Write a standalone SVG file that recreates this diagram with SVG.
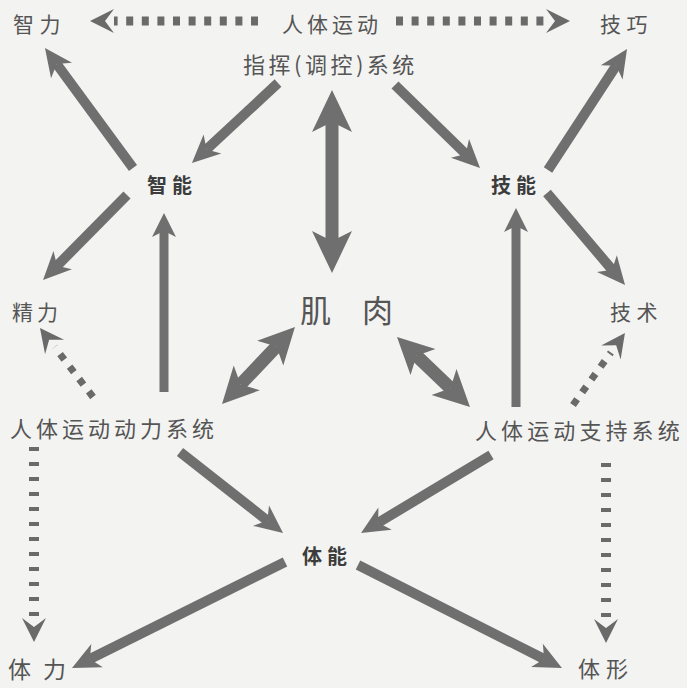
<svg xmlns="http://www.w3.org/2000/svg" width="687" height="688" viewBox="0 0 687 688">
<style>
text{font-family:"Noto Sans CJK SC","Noto Sans",sans-serif;fill:#555;}
.b{font-weight:700;fill:#3c3c3c;font-size:20px;letter-spacing:5px;}
.s{stroke:#6f6f6f;stroke-width:10;fill:none;}
.v{stroke:#6f6f6f;stroke-width:9;fill:none;}
.big{stroke:#6f6f6f;stroke-width:13;fill:none;}
.dh{stroke:#6a6a6a;stroke-width:9;stroke-dasharray:7 8.6;fill:none;}
.dv{stroke:#6a6a6a;stroke-width:10;stroke-dasharray:4 11;fill:none;}
.dd{stroke:#6a6a6a;stroke-width:7;stroke-dasharray:7 8.7;fill:none;}
</style>
<defs>
<marker id="hs" markerUnits="userSpaceOnUse" orient="auto" overflow="visible" refX="0" refY="0" markerWidth="1" markerHeight="1"><path d="M20,0 L-8,-13 L0,0 L-8,13 Z" fill="#6f6f6f"/></marker>
<marker id="hv" markerUnits="userSpaceOnUse" orient="auto" overflow="visible" refX="0" refY="0" markerWidth="1" markerHeight="1"><path d="M18,0 L-6,-12 L0,0 L-6,12 Z" fill="#6f6f6f"/></marker>
<marker id="hb" markerUnits="userSpaceOnUse" orient="auto-start-reverse" overflow="visible" refX="0" refY="0" markerWidth="1" markerHeight="1"><path d="M32,0 L-10,-20 L0,0 L-10,20 Z" fill="#6f6f6f"/></marker>
<marker id="hd" markerUnits="userSpaceOnUse" orient="auto-start-reverse" overflow="visible" refX="0" refY="0" markerWidth="1" markerHeight="1"><path d="M27,0 L-9,-18 L0,0 L-9,18 Z" fill="#6f6f6f"/></marker>
<marker id="hc" markerUnits="userSpaceOnUse" orient="auto" overflow="visible" refX="0" refY="0" markerWidth="1" markerHeight="1"><path d="M24,0 L0,-12 L9,0 L0,12 Z" fill="#6a6a6a"/></marker>
</defs>
<rect width="687" height="688" fill="#f3f3f1"/>
<g id="connectors">
<line class="dh" x1="258" y1="21" x2="114" y2="21" marker-end="url(#hc)"/>
<line class="dh" x1="396" y1="21" x2="546" y2="21" marker-end="url(#hc)"/>
<line class="s" x1="278" y1="83" x2="206.6" y2="149.4" marker-end="url(#hs)"/>
<line class="s" x1="133" y1="168" x2="56.8" y2="64.1" marker-end="url(#hs)"/>
<line class="s" x1="395" y1="85" x2="465.7" y2="154" marker-end="url(#hs)"/>
<line class="s" x1="548" y1="170" x2="616.1" y2="65.7" marker-end="url(#hs)"/>
<line class="big" x1="332" y1="122" x2="332" y2="241" marker-start="url(#hb)" marker-end="url(#hb)"/>
<line class="s" x1="127" y1="195" x2="57.1" y2="265.8" marker-end="url(#hs)"/>
<line class="s" x1="547" y1="193" x2="612.1" y2="269.7" marker-end="url(#hs)"/>
<line class="v" x1="164" y1="392" x2="164" y2="231" marker-end="url(#hv)"/>
<line class="v" x1="516" y1="407" x2="516" y2="226" marker-end="url(#hv)"/>
<line class="dd" x1="93" y1="397" x2="54.6" y2="347" marker-end="url(#hc)"/>
<line class="dd" x1="573" y1="405" x2="610.9" y2="352.5" marker-end="url(#hc)"/>
<line class="big" x1="276.4" y1="346.6" x2="240.6" y2="384.4" marker-start="url(#hd)" marker-end="url(#hd)"/>
<line class="big" x1="416.5" y1="355.7" x2="450.5" y2="388.3" marker-start="url(#hd)" marker-end="url(#hd)"/>
<line class="s" x1="180" y1="452" x2="267.3" y2="520.6" marker-end="url(#hs)"/>
<line class="s" x1="491" y1="455" x2="378.2" y2="522.7" marker-end="url(#hs)"/>
<line class="s" x1="285" y1="562" x2="89.9" y2="659.1" marker-end="url(#hs)"/>
<line class="s" x1="358" y1="565" x2="544.1" y2="659" marker-end="url(#hs)"/>
<line class="dv" x1="34" y1="447" x2="34" y2="618" marker-end="url(#hc)"/>
<line class="dv" x1="606" y1="463" x2="606" y2="619" marker-end="url(#hc)"/>
</g>
<g id="n-zhili"><text x="13" y="32" font-size="21" letter-spacing="5.5">智力</text></g>
<g id="n-renti"><text x="282" y="32" font-size="21" letter-spacing="4">人体运动</text></g>
<g id="n-jiqiao"><text x="600" y="32" font-size="21" letter-spacing="5.5">技巧</text></g>
<g id="n-zhihui"><text x="243" y="73" font-size="22" letter-spacing="3.5">指挥(调控)系统</text></g>
<g id="n-zhineng"><text class="b" x="147" y="193">智能</text></g>
<g id="n-jineng"><text class="b" x="491" y="193">技能</text></g>
<g id="n-jingli"><text x="12" y="320" font-size="21" letter-spacing="4">精力</text></g>
<g id="n-jirou"><text x="300" y="322" font-size="31" letter-spacing="31">肌肉</text></g>
<g id="n-jishu"><text x="610" y="320" font-size="21" letter-spacing="5.5">技术</text></g>
<g id="n-dongli"><text x="10" y="437" font-size="22" letter-spacing="4">人体运动动力系统</text></g>
<g id="n-zhichi"><text x="475" y="439" font-size="22" letter-spacing="4.1">人体运动支持系统</text></g>
<g id="n-tineng"><text class="b" x="302" y="564">体能</text></g>
<g id="n-tili"><text x="8" y="678" font-size="23" letter-spacing="12">体力</text></g>
<g id="n-tixing"><text x="578" y="677" font-size="22" letter-spacing="6">体形</text></g>
</svg>
